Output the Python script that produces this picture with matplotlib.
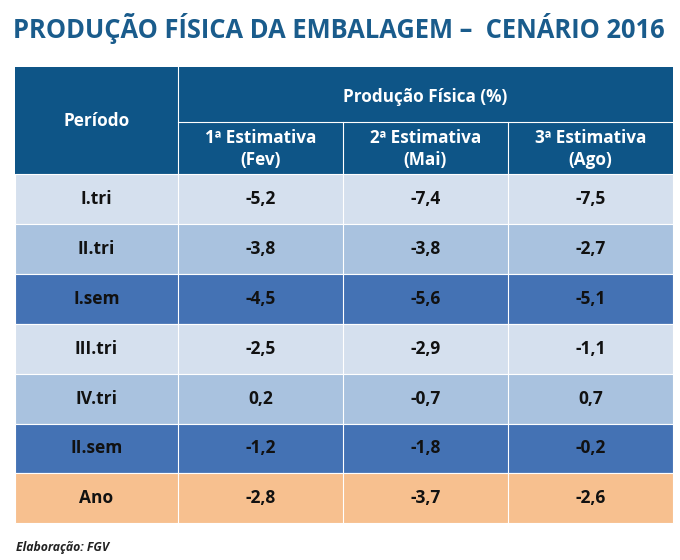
import matplotlib.pyplot as plt
from matplotlib.patches import Rectangle

# === Data ===
title = "PRODUÇÃO FÍSICA DA EMBALAGEM –  CENÁRIO 2016"
group_header = "Produção Física (%)"
col_headers = ["1ª Estimativa\n(Fev)", "2ª Estimativa\n(Mai)", "3ª Estimativa\n(Ago)"]
periods = ["I.tri", "II.tri", "I.sem", "III.tri", "IV.tri", "II.sem", "Ano"]
est_fev = ["-5,2", "-3,8", "-4,5", "-2,5", "0,2", "-1,2", "-2,8"]
est_mai = ["-7,4", "-3,8", "-5,6", "-2,9", "-0,7", "-1,8", "-3,7"]
est_ago = ["-7,5", "-2,7", "-5,1", "-1,1", "0,7", "-0,2", "-2,6"]
source = "Elaboração: FGV"

# === Styles ===
header_col = "#0E5587"
row_cols = ["#D5E0EE", "#A9C2DF", "#4472B4", "#D5E0EE", "#A9C2DF", "#4472B4", "#F7C08F"]
title_col = "#1A5C8C"
font = "Open Sans"

fig = plt.figure(figsize=(6.8, 5.6), dpi=100)
ax = fig.add_axes([0, 0, 1, 1])
ax.set_xlim(0, 680)
ax.set_ylim(560, 0)
ax.axis("off")

col_x = [15, 178, 343, 508, 673]
top, split, head_bot = 67, 122, 174
row_h = 49.9

ax.text(13, 29, title, fontsize=18.4, fontweight="bold", color=title_col,
        family=font, va="center", ha="left")

# header
ax.add_patch(Rectangle((col_x[0], top), col_x[-1] - col_x[0], head_bot - top,
                       facecolor=header_col, edgecolor="none"))
ax.plot([col_x[1], col_x[1]], [top, head_bot], color="white", lw=0.8)
ax.plot([col_x[1], col_x[-1]], [split, split], color="white", lw=0.8)
for c in (2, 3):
    ax.plot([col_x[c], col_x[c]], [split, head_bot], color="white", lw=0.8)
hdr = dict(color="white", fontsize=12.3, fontweight="bold", family=font,
           ha="center", va="center")
ax.text((col_x[0] + col_x[1]) / 2, (top + head_bot) / 2 + 1, "Período", **hdr)
ax.text((col_x[1] + col_x[-1]) / 2, (top + split) / 2 + 2, group_header, **hdr)
for i, h in enumerate(col_headers):
    ax.text((col_x[i + 1] + col_x[i + 2]) / 2, (split + head_bot) / 2 + 1, h,
            linespacing=1.3, **hdr)

# body
cols = [periods, est_fev, est_mai, est_ago]
for r in range(len(periods)):
    y0 = head_bot + r * row_h
    ax.add_patch(Rectangle((col_x[0], y0), col_x[-1] - col_x[0], row_h,
                           facecolor=row_cols[r], edgecolor="white", lw=0.8))
    for c in range(4):
        ax.text((col_x[c] + col_x[c + 1]) / 2, y0 + row_h / 2, cols[c][r],
                color="#111111", fontsize=12.5, fontweight="bold", family=font,
                ha="center", va="center")
body_bot = head_bot + len(periods) * row_h
for c in (1, 2, 3):
    ax.plot([col_x[c], col_x[c]], [head_bot, body_bot], color="white", lw=0.8)

ax.text(16, 548, source, fontsize=8.8, fontweight="bold", style="italic",
        color="#222222", family=font, ha="left", va="center")

fig.savefig("out.png", dpi=100)
